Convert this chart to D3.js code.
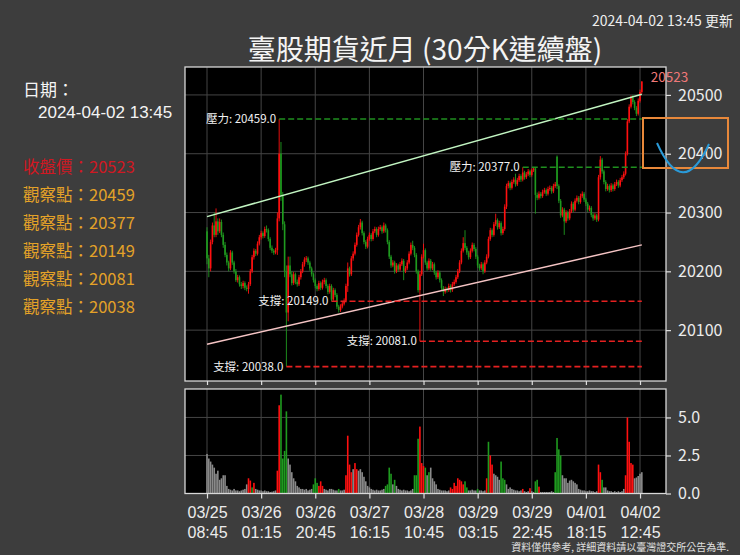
<!DOCTYPE html>
<html><head><meta charset="utf-8">
<script src="https://cdn.jsdelivr.net/npm/d3@7"></script>
<style>
body{margin:0;background:#3d3d3d;}
svg{display:block;}
text{font-family:"Noto Sans CJK TC","Noto Sans",sans-serif;}
</style>
</head><body>
<svg id="c" width="740" height="555"></svg>
<script>
// ---------- data ----------
const tickIndex = [0,30,60,90,120,150,180,210,240];
const tickDates = ["03/25","03/26","03/26","03/27","03/28","03/29","03/29","04/01","04/02"];
const tickTimes = ["08:45","01:15","20:45","16:15","10:45","03:15","22:45","18:15","12:45"];
const priceTicks = [20100,20200,20300,20400,20500];
const volTicks = [0,2.5,5.0];

const opens = [
20268,20222,20205,20250,20278,20262,20285,20268,20284,20262,
20245,20228,20215,20205,20232,20215,20200,20185,20190,20178,
20175,20180,20172,20170,20178,20200,20224,20235,20230,20247,
20258,20265,20260,20272,20270,20255,20240,20235,20232,20236,
20290,20400,20330,20280,20200,20130,20210,20195,20180,20195,
20182,20178,20190,20200,20212,20220,20222,20215,20205,20195,
20185,20175,20170,20180,20172,20182,20185,20175,20165,20175,
20152,20168,20160,20140,20134,20140,20145,20150,20175,20205,
20195,20222,20230,20245,20262,20275,20283,20265,20250,20242,
20255,20262,20255,20268,20272,20262,20272,20275,20268,20278,
20270,20250,20225,20210,20215,20200,20210,20203,20212,20218,
20200,20205,20215,20230,20245,20240,20228,20200,20168,20195,
20225,20236,20215,20205,20218,20205,20212,20198,20190,20198,
20185,20172,20165,20170,20168,20175,20168,20178,20182,20190,
20200,20215,20235,20248,20240,20232,20224,20235,20245,20238,
20225,20210,20205,20212,20200,20215,20225,20255,20270,20262,
20280,20287,20275,20282,20265,20272,20310,20345,20350,20342,
20352,20356,20348,20355,20362,20356,20368,20360,20365,20370,
20364,20372,20375,20330,20325,20332,20328,20335,20338,20332,
20340,20342,20336,20345,20395,20345,20320,20295,20305,20285,
20300,20290,20302,20315,20305,20320,20325,20318,20328,20332,
20322,20315,20305,20308,20296,20290,20295,20288,20360,20390,
20370,20352,20340,20345,20338,20346,20340,20348,20352,20346,
20355,20360,20366,20400,20455,20480,20495,20488,20478,20468,
20490,20505];
const highs = [
20275,20228,20254,20283,20300,20307,20290,20290,20288,20266,
20250,20232,20218,20236,20235,20218,20204,20194,20193,20182,
20184,20183,20176,20182,20204,20228,20239,20238,20251,20262,
20269,20268,20276,20278,20273,20258,20244,20238,20240,20300,
20459,20420,20335,20285,20210,20225,20225,20200,20199,20198,
20186,20194,20204,20216,20224,20226,20225,20218,20208,20198,
20188,20178,20184,20183,20186,20189,20188,20178,20179,20178,
20172,20171,20163,20143,20144,20149,20154,20179,20215,20208,
20226,20234,20249,20266,20279,20289,20286,20268,20253,20259,
20266,20265,20272,20276,20275,20276,20279,20278,20283,20281,
20273,20253,20228,20219,20218,20214,20213,20216,20222,20221,
20209,20219,20234,20249,20252,20243,20231,20203,20200,20229,
20247,20239,20218,20222,20221,20216,20215,20201,20202,20201,
20188,20175,20174,20173,20179,20178,20182,20186,20194,20204,
20219,20239,20258,20270,20243,20235,20239,20249,20248,20241,
20228,20213,20216,20215,20219,20229,20259,20274,20273,20284,
20298,20290,20286,20285,20276,20314,20349,20354,20353,20356,
20360,20366,20359,20366,20365,20377,20371,20369,20374,20373,
20375,20376,20377,20334,20336,20335,20339,20342,20341,20344,
20346,20345,20349,20352,20397,20348,20323,20309,20308,20304,
20303,20306,20319,20318,20324,20329,20328,20332,20336,20335,
20325,20318,20312,20311,20299,20299,20298,20364,20396,20393,
20373,20355,20349,20348,20350,20349,20352,20356,20355,20359,
20364,20370,20404,20459,20484,20499,20500,20491,20481,20494,
20509,20523];
const lows = [
20212,20190,20200,20246,20258,20258,20262,20265,20258,20240,
20224,20210,20200,20202,20211,20196,20182,20181,20174,20170,
20171,20168,20166,20162,20175,20197,20220,20226,20227,20244,
20254,20256,20257,20266,20251,20236,20231,20228,20229,20228,
20285,20320,20270,20190,20038,20115,20190,20176,20177,20178,
20174,20175,20186,20197,20208,20216,20211,20201,20191,20181,
20171,20166,20167,20168,20169,20178,20171,20161,20162,20149,
20150,20156,20136,20130,20131,20137,20142,20147,20165,20191,
20192,20218,20227,20242,20259,20271,20261,20246,20238,20239,
20252,20251,20252,20265,20258,20259,20269,20264,20265,20266,
20246,20221,20206,20207,20196,20197,20199,20200,20209,20185,
20197,20202,20212,20227,20236,20224,20196,20164,20081,20192,
20222,20211,20201,20202,20201,20202,20194,20186,20187,20181,
20168,20158,20162,20164,20165,20164,20165,20175,20179,20187,
20197,20212,20232,20236,20228,20220,20221,20232,20234,20221,
20206,20201,20202,20195,20197,20212,20222,20252,20258,20259,
20277,20271,20272,20261,20262,20269,20306,20341,20338,20339,
20349,20344,20345,20352,20352,20353,20356,20357,20362,20360,
20361,20369,20298,20321,20322,20324,20325,20332,20328,20329,
20337,20332,20333,20342,20340,20316,20291,20292,20262,20282,
20286,20287,20299,20301,20302,20317,20314,20315,20325,20318,
20311,20301,20302,20292,20286,20287,20284,20285,20356,20366,
20348,20336,20337,20334,20335,20336,20337,20345,20342,20343,
20352,20357,20363,20397,20452,20477,20484,20474,20464,20465,
20487,20502];
const closes = [
20222,20205,20250,20278,20262,20285,20268,20284,20262,20245,
20228,20215,20205,20232,20215,20200,20185,20190,20178,20175,
20180,20172,20170,20178,20200,20224,20235,20230,20247,20258,
20265,20260,20272,20270,20255,20240,20235,20232,20236,20290,
20400,20330,20280,20200,20130,20210,20195,20180,20195,20182,
20178,20190,20200,20212,20220,20222,20215,20205,20195,20185,
20175,20170,20180,20172,20182,20185,20175,20165,20175,20152,
20168,20160,20140,20134,20140,20145,20150,20175,20205,20195,
20222,20230,20245,20262,20275,20283,20265,20250,20242,20255,
20262,20255,20268,20272,20262,20272,20275,20268,20278,20270,
20250,20225,20210,20215,20200,20210,20203,20212,20218,20200,
20205,20215,20230,20245,20240,20228,20200,20168,20195,20225,
20236,20215,20205,20218,20205,20212,20198,20190,20198,20185,
20172,20165,20170,20168,20175,20168,20178,20182,20190,20200,
20215,20235,20248,20240,20232,20224,20235,20245,20238,20225,
20210,20205,20212,20200,20215,20225,20255,20270,20262,20280,
20287,20275,20282,20265,20272,20310,20345,20350,20342,20352,
20356,20348,20355,20362,20356,20368,20360,20365,20370,20364,
20372,20375,20330,20325,20332,20328,20335,20338,20332,20340,
20342,20336,20345,20348,20345,20320,20295,20305,20285,20300,
20290,20302,20315,20305,20320,20325,20318,20328,20332,20322,
20315,20305,20308,20296,20290,20295,20288,20360,20390,20370,
20352,20340,20345,20338,20346,20340,20348,20352,20346,20355,
20360,20366,20400,20455,20480,20495,20488,20478,20468,20490,
20505,20523];
const volumes = [
2.6,2.3,2.1,1.9,1.7,1.3,1.5,0.9,1.0,1.2,
1.2,0.5,0.3,0.25,0.2,0.3,0.2,0.2,0.15,0.2,
0.25,0.3,0.6,1.0,0.85,0.4,0.7,0.3,0.25,0.2,
0.2,0.15,0.2,0.15,0.15,0.1,0.12,0.15,0.2,1.5,
5.8,6.5,2.3,2.8,5.4,2.3,1.9,1.4,1.0,0.8,
0.5,0.4,0.3,0.3,0.25,0.3,0.2,0.25,0.3,0.6,
1.0,0.7,0.5,0.8,0.5,0.3,0.25,0.2,0.3,0.3,
0.25,0.2,0.2,0.3,0.2,0.2,0.25,1.2,3.8,1.9,
1.4,1.6,2.0,1.6,1.5,1.6,1.4,1.1,0.8,0.5,
0.4,0.3,0.25,0.2,0.25,0.2,0.2,0.25,0.3,0.5,
0.6,1.7,1.3,0.6,0.9,0.5,0.3,0.25,0.2,0.25,
0.2,0.2,0.15,0.2,0.3,1.2,1.2,3.6,4.4,2.0,
1.8,1.7,1.2,1.4,1.7,1.0,0.8,0.6,0.3,0.25,
0.2,0.2,0.2,0.15,0.2,0.4,0.3,0.7,0.5,1.0,
0.9,0.8,0.6,0.8,0.4,0.2,0.2,0.25,0.2,0.2,
0.3,0.2,0.2,0.15,0.2,1.0,3.4,2.5,1.9,1.3,
1.2,1.1,0.9,2.1,1.0,0.9,0.6,0.3,0.4,0.3,
0.25,0.2,0.2,0.15,0.2,0.3,0.15,0.1,0.15,0.35,
0.15,0.1,0.8,0.9,0.45,0.1,0.1,0.1,0.1,0.1,
0.1,0.15,0.1,1.4,3.65,2.9,2.5,1.2,1.0,1.0,
0.7,0.85,0.9,0.8,0.7,0.6,0.3,0.25,0.2,0.2,
0.15,0.15,0.2,0.15,0.15,0.1,0.15,1.9,1.4,0.9,
0.4,0.4,0.2,0.15,0.15,0.1,0.15,0.1,0.15,0.1,
0.15,0.3,1.2,5.0,3.4,2.0,1.9,1.0,1.05,1.15,
1.3,1.4];
// r = up colour, g = down colour, n = neutral grey
const volumeKinds = (
"nnnnnnnnnn"+"nnnnnnnnnn"+"nnnrrgrnnn"+"nnnnnnnnnr"+"rggggnnnnn"+
"nnnnnnnnng"+"ggrrrnnnnn"+"nnngnnnrrr"+"rnrrnnnnnn"+"nnnnnnnnng"+
"gggngnnnnn"+"nnnnngggrr"+"rgngnnnnnn"+"nnnnnrrrrr"+"rrrggnnnnn"+
"gnnnnrgrrn"+"nnngggnnnn"+"nnnnnrnnnr"+"nnggrnnnnn"+"nnnggggnnn"+
"nnnnnnnnnn"+"nnnnnnnrrg"+"nnnnnnnnnn"+"nnrrrrrnnn"+"nn").split("");

const resistLevels = [20459, 20377];
const resistStart = [40, 175];
const supportLevels = [20149, 20081, 20038];
const supportStart = [69, 118, 44];
const trendUpper = [20293, 20501];
const trendLower = [20076, 20245];
const lastClose = 20523;
const watchPoints = [20459, 20377, 20149, 20081, 20038];

// ---------- drawing ----------
const svg = d3.select("#c");
const N = closes.length;
const L = 185, R = 666, T1 = 67, B1 = 381, T2 = 389, B2 = 493.5;
const x = d3.scaleLinear().domain([-12.2, 254.4]).range([L, R]);
const y = d3.scaleLinear().domain([20013.5, 20547.5]).range([B1, T1]);
const yv = d3.scaleLinear().domain([0, 6.87]).range([B2, T2]);
const UP = "#ff1010", DN = "#1f9a1f", NEU = "#8a8a8a";
const LATIN = '"Liberation Sans",Arial,sans-serif';

svg.append("rect").attr("width",740).attr("height",555).attr("fill","#3d3d3d");
svg.append("rect").attr("x",L).attr("y",T1).attr("width",R-L).attr("height",B1-T1).attr("fill","#000");
svg.append("rect").attr("x",L).attr("y",T2).attr("width",R-L).attr("height",B2-T2).attr("fill","#000");

// grids
const grid = svg.append("g").attr("stroke","#454545").attr("stroke-width",1);
tickIndex.forEach(t => {
  grid.append("line").attr("x1",x(t)).attr("x2",x(t)).attr("y1",T1).attr("y2",B1);
  grid.append("line").attr("x1",x(t)).attr("x2",x(t)).attr("y1",T2).attr("y2",B2);
});
priceTicks.forEach(p => grid.append("line").attr("x1",L).attr("x2",R).attr("y1",y(p)).attr("y2",y(p)));
volTicks.forEach(v => grid.append("line").attr("x1",L).attr("x2",R).attr("y1",yv(v)).attr("y2",yv(v)));

// candles
const idx = d3.range(N);
const cg = svg.append("g");
cg.selectAll("line.w").data(idx).join("line")
  .attr("x1",i=>x(i)).attr("x2",i=>x(i))
  .attr("y1",i=>y(highs[i])).attr("y2",i=>y(lows[i]))
  .attr("stroke",i=>closes[i]>=opens[i]?UP:DN).attr("stroke-width",0.9);
cg.selectAll("rect").data(idx).join("rect")
  .attr("x",i=>x(i)-0.8).attr("width",1.6)
  .attr("y",i=>y(Math.max(opens[i],closes[i])))
  .attr("height",i=>Math.max(0.8, Math.abs(y(opens[i])-y(closes[i]))))
  .attr("fill",i=>closes[i]>=opens[i]?UP:DN);

// volumes
const kindCol = {r:UP, g:DN, n:NEU};
svg.append("g").selectAll("rect").data(idx).join("rect")
  .attr("x",i=>x(i)-0.8).attr("width",1.6)
  .attr("y",i=>yv(volumes[i])).attr("height",i=>yv(0)-yv(volumes[i]))
  .attr("fill",i=>kindCol[volumeKinds[i]]);

// trend lines
svg.append("line").attr("x1",x(0)).attr("x2",x(N-1)).attr("y1",y(trendUpper[0])).attr("y2",y(trendUpper[1]))
  .attr("stroke","#c2f5c2").attr("stroke-width",1.5);
svg.append("line").attr("x1",x(0)).attr("x2",x(N-1)).attr("y1",y(trendLower[0])).attr("y2",y(trendLower[1]))
  .attr("stroke","#f5c4c4").attr("stroke-width",1.5);

// resistance / support
function level(v, s, col, name){
  svg.append("line").attr("x1",x(s)).attr("x2",x(N-1)).attr("y1",y(v)).attr("y2",y(v))
    .attr("stroke",col).attr("stroke-width",1.6).attr("stroke-dasharray","6,3");
  svg.append("text").attr("x",x(s)-3).attr("y",y(v)+4).attr("text-anchor","end")
    .attr("fill","#f2f2f2").attr("font-size",11.5).text(name+": "+v.toFixed(1));
}
resistLevels.forEach((v,k)=>level(v,resistStart[k],"#1f8f1f","壓力"));
supportLevels.forEach((v,k)=>level(v,supportStart[k],"#e52020","支撐"));

// last close label
svg.append("text").attr("x",x(N-1)+9).attr("y",y(lastClose)+1).attr("fill","#f07878")
  .attr("font-size",13.5).text(lastClose);

// frames
[[T1,B1],[T2,B2]].forEach(([t,b])=>svg.append("rect").attr("x",L).attr("y",t).attr("width",R-L).attr("height",b-t)
  .attr("fill","none").attr("stroke","#d8d8d8").attr("stroke-width",1.3));

// axes
function styleAxis(g){
  g.select(".domain").remove();
  g.selectAll(".tick line").attr("stroke","#e0e0e0").attr("stroke-width",1.2);
  g.selectAll(".tick text").attr("fill","#ececec").attr("font-size",16)
   .attr("font-family",'"Noto Sans CJK TC","Noto Sans",sans-serif');
}
svg.append("g").attr("transform",`translate(${R},0)`)
  .call(d3.axisRight(y).tickValues(priceTicks).tickFormat(d3.format("d")).tickSize(5).tickPadding(7)).call(styleAxis);
svg.append("g").attr("transform",`translate(${R},0)`)
  .call(d3.axisRight(yv).tickValues(volTicks).tickFormat(d3.format(".1f")).tickSize(5).tickPadding(7)).call(styleAxis);
const xa1 = svg.append("g").attr("transform",`translate(0,${B1})`)
  .call(d3.axisBottom(x).tickValues(tickIndex).tickSize(4)).call(styleAxis);
xa1.selectAll(".tick text").remove();
const xa = svg.append("g").attr("transform",`translate(0,${B2})`)
  .call(d3.axisBottom(x).tickValues(tickIndex).tickSize(5)).call(styleAxis);
xa.selectAll(".tick text").remove();
xa.selectAll(".tick").each(function(d,k){
  const g = d3.select(this);
  g.append("text").attr("fill","#ececec").attr("font-size",16).attr("text-anchor","middle")
    .style("font-family",LATIN).attr("x",0).attr("y",24.5).text(tickDates[k]);
  g.append("text").attr("fill","#ececec").attr("font-size",16).attr("text-anchor","middle")
    .style("font-family",LATIN).attr("x",0).attr("y",44).text(tickTimes[k]);
});

// title & notes
svg.append("text").attr("x",425).attr("y",60).attr("text-anchor","middle").attr("fill","#f4f4f4")
  .attr("font-size",28).text("臺股期貨近月 (30分K連續盤)");
svg.append("text").attr("x",733).attr("y",26).attr("text-anchor","end").attr("fill","#eeeeee")
  .attr("font-size",14).text("2024-04-02 13:45 更新");
svg.append("text").attr("x",729).attr("y",551).attr("text-anchor","end").attr("fill","#e0e0e0")
  .attr("font-size",10).text("資料僅供參考, 詳細資料請以臺灣證交所公告為準.");

// left info panel
svg.append("text").attr("x",23).attr("y",96).attr("fill","#f4f4f4").attr("font-size",17).text("日期：");
svg.append("text").attr("x",38).attr("y",118).attr("fill","#f4f4f4").attr("font-size",17)
  .style("font-family",LATIN).text("2024-04-02 13:45");
svg.append("text").attr("x",23).attr("y",173).attr("fill","#d01822").attr("font-size",16.5).text("收盤價："+lastClose);
watchPoints.forEach((v,k)=>svg.append("text").attr("x",23).attr("y",201+k*28).attr("fill","#e4a228")
  .attr("font-size",16.5).text("觀察點："+v));

// highlight box with curve
svg.append("rect").attr("x",643).attr("y",118).attr("width",85).attr("height",50)
  .attr("fill","none").attr("stroke","#e8883a").attr("stroke-width",2);
svg.append("path").attr("d","M657,143 Q683,201 709,144").attr("fill","none")
  .attr("stroke","#2a9ad8").attr("stroke-width",2);
</script>
</body></html>
